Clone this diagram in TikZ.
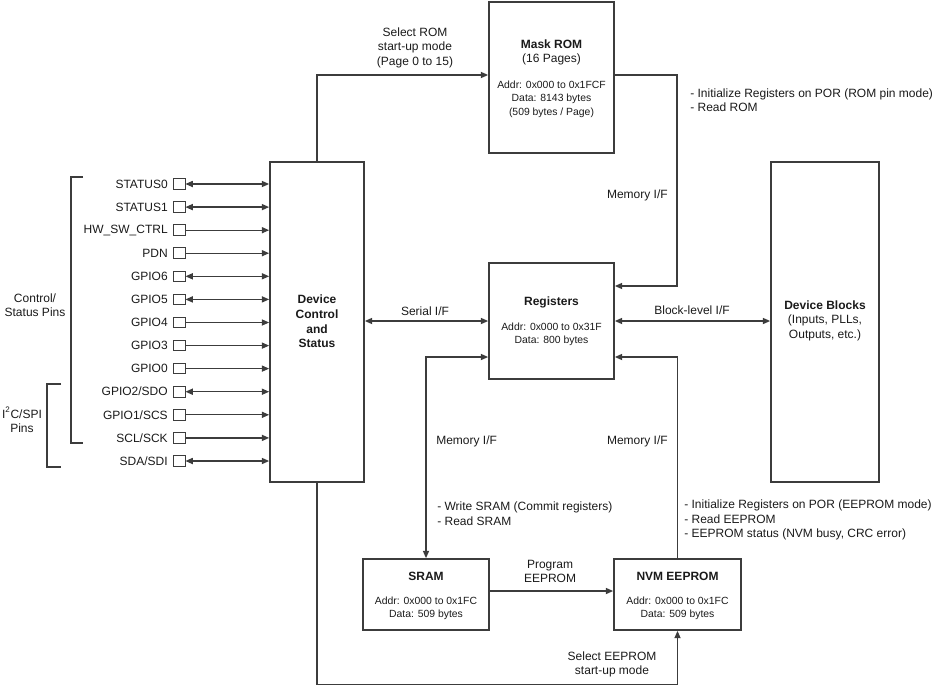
\documentclass[tikz,border=0pt]{standalone}
\usepackage{fontspec}
\setmainfont{Liberation Sans}
\usetikzlibrary{arrows.meta,calc}
\definecolor{ln}{HTML}{3C3C3C}
\definecolor{tx}{HTML}{1A1A1A}
\tikzset{
 blk/.style={draw=ln, line width=1.3pt, inner sep=0pt},
 conn/.style={draw=ln, line width=0.95pt},
 arr/.style={conn, -{Triangle[length=5.5pt,width=4.6pt]}},
 darr/.style={conn, {Triangle[length=5.5pt,width=4.6pt]}-{Triangle[length=5.5pt,width=4.6pt]}},
 lab/.style={text=tx, font=\fontsize{9}{10.9}\selectfont, inner sep=0pt, align=center},
 small/.style={text=tx, font=\fontsize{7.8}{10}\selectfont, inner sep=0pt, align=center},
 bold/.style={text=tx, font=\fontsize{9}{10.9}\selectfont\bfseries, inner sep=0pt, align=center},
 pinbox/.style={draw=ln, line width=0.7pt, minimum width=9pt, minimum height=8pt, inner sep=0pt},
}
\newcommand\pinrow[4]{%
 \node[pinbox] (#1) at (179,#2) {};
 \node[lab, anchor=east] (#1l) at (168,#2) {#3};
 \draw[#4] (#1.east) -- (#1.east -| dcs.west);
}
\begin{document}
\begin{tikzpicture}[x=0.75pt,y=-0.75pt]
\useasboundingbox (0,0) rectangle (941,686);

% blocks
\node[blk, minimum width=93.75pt, minimum height=113.25pt] (rom) at (551.5,77.5) {};
\node[blk, minimum width=93.75pt, minimum height=87pt] (reg) at (551.5,321) {};
\node[blk, minimum width=70.5pt, minimum height=240pt] (dcs) at (317,322) {};
\node[blk, minimum width=81pt, minimum height=240pt] (dblk) at (825,322) {};
\node[blk, minimum width=94.5pt, minimum height=53.25pt] (sram) at (426,594.5) {};
\node[blk, minimum width=95.25pt, minimum height=53.25pt] (nvm) at (677.5,594.5) {};

% block texts
\node[bold] (romt) at (551.5,44) {Mask ROM};
\node[lab] (romt2) at (551.5,59.5) {(16 Pages)};
\node[small] (romt3) at (551.5,99) {Addr: 0x000 to 0x1FCF\\Data: 8143 bytes\\(509 bytes / Page)};
\node[bold] (regt) at (551.5,302) {Registers};
\node[small] (regt2) at (551.5,334) {Addr: 0x000 to 0x31F\\Data: 800 bytes};
\node[bold] (dcst) at (317,321.5) {Device\\Control\\and\\Status};
\node[bold] (dblkt) at (825,305) {Device Blocks};
\node[lab] (dblkt2) at (825,328) {(Inputs, PLLs,\\Outputs, etc.)};
\node[bold] (sramt) at (426,576) {SRAM};
\node[small] (sramt2) at (426,608.5) {Addr: 0x000 to 0x1FC\\Data: 509 bytes};
\node[bold] (nvmt) at (677.5,576) {NVM EEPROM};
\node[small] (nvmt2) at (677.5,608.5) {Addr: 0x000 to 0x1FC\\Data: 509 bytes};

% helper coordinates
\coordinate (y75) at (0,75);
\coordinate (c1) at (677,286);
\coordinate (y357) at (0,357);
\coordinate (bl) at (317,684.5);

% connectors
\draw[arr] (dcs.north) |- (rom.west |- y75);
\draw[arr] (rom.east |- y75) -| (c1) -- (c1 -| reg.east);
\draw[darr] (dcs.east |- reg.west) -- (reg.west);
\draw[darr] (reg.east) -- (dblk.west |- reg.east);
\draw[darr] (sram.north) |- (reg.west |- y357);
\draw[arr] (nvm.north) |- (reg.east |- y357);
\draw[arr] (sram.east |- 0,591) -- (nvm.west |- 0,591);
\draw[arr] (dcs.south) -- (bl) -| (nvm.south);

% connector labels
\node[lab] (l1) at (415,47.5) {Select ROM\\start-up mode\\(Page 0 to 15)};
\node[lab, anchor=east] (l2) at (668,195) {Memory I/F};
\node[lab, align=left, anchor=west] (l3) at (690,100) {- Initialize Registers on POR (ROM pin mode)\\- Read ROM};
\node[lab] (l4) at (425,311) {Serial I/F};
\node[lab] (l5) at (692,310) {Block-level I/F};
\node[lab, anchor=west] (l6) at (436,441) {Memory I/F};
\node[lab, anchor=east] (l7) at (668,441) {Memory I/F};
\node[lab, align=left, anchor=west] (l8) at (437,513.5) {- Write SRAM (Commit registers)\\- Read SRAM};
\node[lab, align=left, anchor=west] (l9) at (684,520) {- Initialize Registers on POR (EEPROM mode)\\- Read EEPROM\\- EEPROM status (NVM busy, CRC error)};
\node[lab] (l10) at (550,571.5) {Program\\EEPROM};
\node[lab] (l11) at (612,664.5) {Select EEPROM\\start-up mode};

% pins
\pinrow{pa}{184}{STATUS0}{darr}
\pinrow{pb}{207.1}{STATUS1}{darr}
\pinrow{pc}{230.2}{HW\_SW\_CTRL}{arr}
\pinrow{pd}{253.2}{PDN}{arr}
\pinrow{pe}{276.3}{GPIO6}{darr}
\pinrow{pf}{299.4}{GPIO5}{darr}
\pinrow{pg}{322.5}{GPIO4}{arr}
\pinrow{ph}{345.6}{GPIO3}{arr}
\pinrow{pi}{368.6}{GPIO0}{arr}
\pinrow{pj}{391.7}{GPIO2/SDO}{darr}
\pinrow{pk}{414.8}{GPIO1/SCS}{arr}
\pinrow{pl}{437.9}{SCL/SCK}{arr}
\pinrow{pm}{461}{SDA/SDI}{darr}

% brackets
\draw[draw=ln, line width=0.8pt] (83,177) -- (71,177) -- (71,443) -- (83,443);
\draw[draw=ln, line width=0.8pt] (61,384) -- (47,384) -- (47,467) -- (61,467);
\node[lab] (g1) at (35,305) {Control/\\Status Pins};
\node[lab] (g2) at (22,420) {I\textsuperscript{2}C/SPI\\Pins};
\end{tikzpicture}
\end{document}
